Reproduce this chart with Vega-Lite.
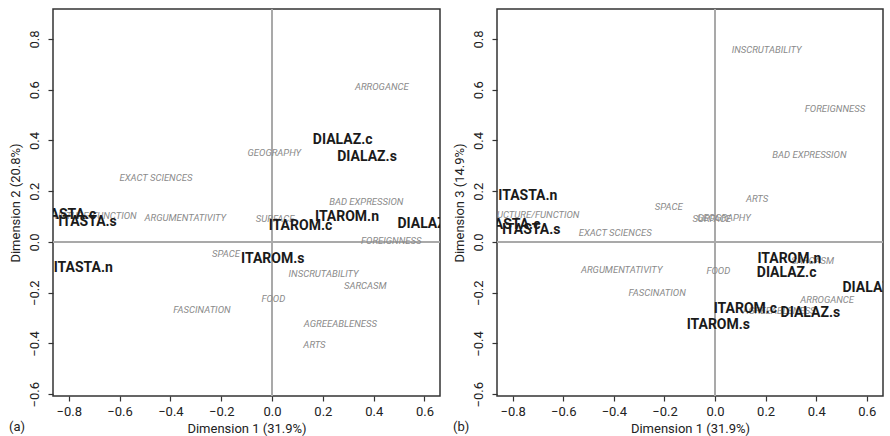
{
  "$schema": "https://vega.github.io/schema/vega-lite/v6.json",
  "padding": {"top": 7, "left": 8, "right": 0, "bottom": 0},
  "spacing": 10,
  "datasets": {
    "a": [
      {"label": "ARROGANCE", "type": "feat", "x": 0.432, "y": 0.611},
      {"label": "GEOGRAPHY", "type": "feat", "x": 0.009, "y": 0.351},
      {"label": "EXACT SCIENCES", "type": "feat", "x": -0.457, "y": 0.252},
      {"label": "BAD EXPRESSION", "type": "feat", "x": 0.371, "y": 0.158},
      {"label": "STRUCTURE/FUNCTION", "type": "feat", "x": -0.728, "y": 0.102},
      {"label": "ARGUMENTATIVITY", "type": "feat", "x": -0.341, "y": 0.095},
      {"label": "SURFACE", "type": "feat", "x": 0.012, "y": 0.092},
      {"label": "FOREIGNNESS", "type": "feat", "x": 0.469, "y": 0.003},
      {"label": "SPACE", "type": "feat", "x": -0.181, "y": -0.046},
      {"label": "INSCRUTABILITY", "type": "feat", "x": 0.203, "y": -0.125},
      {"label": "SARCASM", "type": "feat", "x": 0.367, "y": -0.173},
      {"label": "FOOD", "type": "feat", "x": 0.005, "y": -0.223},
      {"label": "FASCINATION", "type": "feat", "x": -0.276, "y": -0.267},
      {"label": "AGREEABLENESS", "type": "feat", "x": 0.269, "y": -0.323},
      {"label": "ARTS", "type": "feat", "x": 0.167, "y": -0.405},
      {"label": "ITASTA.c", "type": "cat", "x": -0.807, "y": 0.105},
      {"label": "ITASTA.s", "type": "cat", "x": -0.726, "y": 0.079},
      {"label": "ITASTA.n", "type": "cat", "x": -0.743, "y": -0.101},
      {"label": "ITAROM.n", "type": "cat", "x": 0.295, "y": 0.099},
      {"label": "ITAROM.c", "type": "cat", "x": 0.112, "y": 0.063},
      {"label": "ITAROM.s", "type": "cat", "x": 0.003, "y": -0.068},
      {"label": "DIALAZ.c", "type": "cat", "x": 0.278, "y": 0.403},
      {"label": "DIALAZ.s", "type": "cat", "x": 0.374, "y": 0.335},
      {"label": "DIALAZ.n", "type": "cat", "x": 0.612, "y": 0.072}
    ],
    "b": [
      {"label": "INSCRUTABILITY", "type": "feat", "x": 0.204, "y": 0.755},
      {"label": "FOREIGNNESS", "type": "feat", "x": 0.474, "y": 0.523},
      {"label": "BAD EXPRESSION", "type": "feat", "x": 0.373, "y": 0.344},
      {"label": "ARTS", "type": "feat", "x": 0.166, "y": 0.168},
      {"label": "SPACE", "type": "feat", "x": -0.183, "y": 0.138},
      {"label": "STRUCTURE/FUNCTION", "type": "feat", "x": -0.732, "y": 0.108},
      {"label": "GEOGRAPHY", "type": "feat", "x": 0.035, "y": 0.095},
      {"label": "SURFACE", "type": "feat", "x": -0.013, "y": 0.089},
      {"label": "EXACT SCIENCES", "type": "feat", "x": -0.395, "y": 0.037},
      {"label": "SARCASM", "type": "feat", "x": 0.386, "y": -0.076},
      {"label": "ARGUMENTATIVITY", "type": "feat", "x": -0.369, "y": -0.109},
      {"label": "FOOD", "type": "feat", "x": 0.013, "y": -0.116},
      {"label": "FASCINATION", "type": "feat", "x": -0.229, "y": -0.202},
      {"label": "ARROGANCE", "type": "feat", "x": 0.443, "y": -0.227},
      {"label": "AGREEABLENESS", "type": "feat", "x": 0.253, "y": -0.273},
      {"label": "ITASTA.n", "type": "cat", "x": -0.74, "y": 0.18},
      {"label": "ITASTA.c", "type": "cat", "x": -0.806, "y": 0.068},
      {"label": "ITASTA.s", "type": "cat", "x": -0.727, "y": 0.049},
      {"label": "ITAROM.n", "type": "cat", "x": 0.294, "y": -0.066},
      {"label": "ITAROM.c", "type": "cat", "x": 0.12, "y": -0.265},
      {"label": "ITAROM.s", "type": "cat", "x": 0.013, "y": -0.328},
      {"label": "DIALAZ.c", "type": "cat", "x": 0.283, "y": -0.122},
      {"label": "DIALAZ.s", "type": "cat", "x": 0.377, "y": -0.279},
      {"label": "DIALAZ.n", "type": "cat", "x": 0.623, "y": -0.18}
    ]
  },
  "hconcat": [
    {
      "width": 387,
      "height": 387,
      "title": {"text": "(a)", "orient": "bottom", "anchor": "start", "frame": "bounds", "offset": -14},
      "data": {"name": "a"},
      "encoding": {
        "x": {"field": "x", "type": "quantitative", "scale": {"domain": [-0.862, 0.661], "nice": false, "zero": false},
              "axis": {"title": "Dimension 1 (31.9%)", "values": [-0.8, -0.6, -0.4, -0.2, 0, 0.2, 0.4, 0.6], "format": ".1f"}},
        "y": {"field": "y", "type": "quantitative", "scale": {"domain": [-0.607, 0.918], "nice": false, "zero": false},
              "axis": {"title": "Dimension 2 (20.8%)", "values": [-0.6, -0.4, -0.2, 0, 0.2, 0.4, 0.6, 0.8], "format": ".1f"}}
      },
      "layer": [
        {"mark": {"type": "rule", "color": "#aaaaaa", "strokeWidth": 1}, "encoding": {"x": {"datum": 0}, "y": null}},
        {"mark": {"type": "rule", "color": "#aaaaaa", "strokeWidth": 1}, "encoding": {"y": {"datum": 0}, "x": null}},
        {"transform": [{"filter": "datum.type === 'feat'"}],
         "mark": {"type": "text", "clip": true, "fontStyle": "italic", "fontSize": 9.5, "color": "#8a8a8a", "font": "Roboto"},
         "encoding": {"text": {"field": "label"}}},
        {"transform": [{"filter": "datum.type === 'cat'"}],
         "mark": {"type": "text", "clip": true, "fontWeight": "bold", "fontSize": 14, "color": "#1a1a1a", "font": "Roboto"},
         "encoding": {"text": {"field": "label"}}}
      ]
    },
    {
      "width": 386,
      "height": 387,
      "title": {"text": "(b)", "orient": "bottom", "anchor": "start", "frame": "bounds", "offset": -14},
      "data": {"name": "b"},
      "encoding": {
        "x": {"field": "x", "type": "quantitative", "scale": {"domain": [-0.862, 0.664], "nice": false, "zero": false},
              "axis": {"title": "Dimension 1 (31.9%)", "values": [-0.8, -0.6, -0.4, -0.2, 0, 0.2, 0.4, 0.6], "format": ".1f"}},
        "y": {"field": "y", "type": "quantitative", "scale": {"domain": [-0.607, 0.918], "nice": false, "zero": false},
              "axis": {"title": "Dimension 3 (14.9%)", "values": [-0.6, -0.4, -0.2, 0, 0.2, 0.4, 0.6, 0.8], "format": ".1f"}}
      },
      "layer": [
        {"mark": {"type": "rule", "color": "#aaaaaa", "strokeWidth": 1}, "encoding": {"x": {"datum": 0}, "y": null}},
        {"mark": {"type": "rule", "color": "#aaaaaa", "strokeWidth": 1}, "encoding": {"y": {"datum": 0}, "x": null}},
        {"transform": [{"filter": "datum.type === 'feat'"}],
         "mark": {"type": "text", "clip": true, "fontStyle": "italic", "fontSize": 9.5, "color": "#8a8a8a", "font": "Roboto"},
         "encoding": {"text": {"field": "label"}}},
        {"transform": [{"filter": "datum.type === 'cat'"}],
         "mark": {"type": "text", "clip": true, "fontWeight": "bold", "fontSize": 14, "color": "#1a1a1a", "font": "Roboto"},
         "encoding": {"text": {"field": "label"}}}
      ]
    }
  ],
  "config": {
    "font": "Roboto",
    "view": {"stroke": "#333333", "strokeWidth": 1.5},
    "axis": {"grid": false, "domain": false, "tickColor": "#333333", "tickSize": 5, "tickWidth": 1.2,
             "labelFont": "Roboto", "labelFontSize": 13, "labelColor": "#222222",
             "titleFont": "Roboto", "titleFontSize": 13, "titleFontWeight": "normal", "titleColor": "#222222"},
    "axisY": {"labelAngle": -90, "labelAlign": "center", "labelBaseline": "bottom", "labelPadding": 7, "titlePadding": 6},
    "axisX": {"labelPadding": 4, "titlePadding": 4},
    "title": {"font": "Roboto", "fontSize": 13, "fontWeight": "normal", "color": "#222222"}
  }
}
